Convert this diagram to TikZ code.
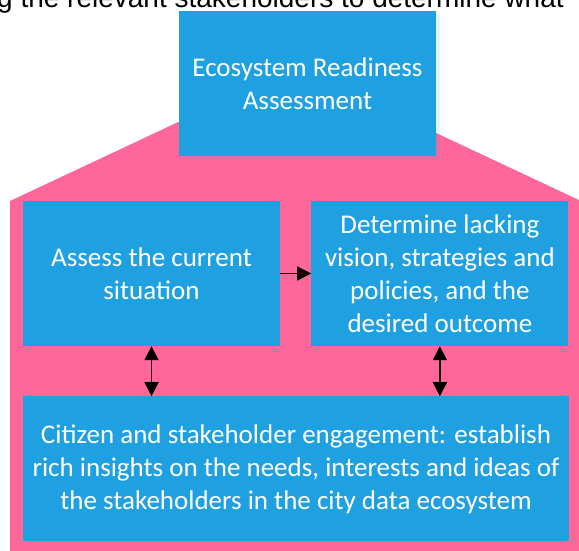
\documentclass[tikz,border=0pt]{standalone}
\usepackage{fontspec}
\setmainfont{Carlito}
\newfontfamily\arialfont{Liberation Sans}
\usepackage{tikz}
\usetikzlibrary{arrows.meta, positioning}
\usepackage{xcolor}
\definecolor{boxblue}{HTML}{1FA0E0}
\definecolor{roofpink}{HTML}{FF6699}

\begin{document}
\begin{tikzpicture}[x=1pt, y=-1pt,
    stagebox/.style={rectangle, fill=boxblue, text=white, align=center, minimum width=257pt, minimum height=145pt, inner sep=0pt, font=\fontsize{27}{33}\selectfont},
    link/.style={-{Triangle[length=14pt, width=14pt]}, line width=1.4pt},
    twoway/.style={{Triangle[length=14pt, width=14pt]}-{Triangle[length=14pt, width=14pt]}, line width=1.4pt}]
    \useasboundingbox (0,0) rectangle (579,550);
    \begin{scope}
    \clip (0,0) rectangle (579,550);
    % house shape behind the stages
    \fill[roofpink] (10,560) -- (10,201) -- (295.5,67) -- (581,201) -- (581,560) -- cycle;
    \node[anchor=base west, inner sep=0pt, font=\arialfont\fontsize{28}{32}\selectfont] (caption) at (-3,7) {g the relevant stakeholders to determine what};
    \fill[boxblue, opacity=0.12] (183,15) rectangle (440,160);
    \node[stagebox] (era) at (307.5,83.5) {Ecosystem Readiness\\Assessment};
    \node[stagebox] (assess) at (151.5,273.5) {Assess the current\\situation};
    \node[stagebox, right=31pt of assess] (lacking) {Determine lacking\\vision, strategies and\\policies, and the\\desired outcome};
    \node[stagebox, minimum width=546pt, below right=50pt and 0pt of assess.south west] (engage) {Citizen and stakeholder engagement: establish\\rich insights on the needs, interests and ideas of\\the stakeholders in the city data ecosystem};
    \draw[link] (assess.east) -- (lacking.west);
    \draw[twoway] (assess.south) -- (engage.north -| assess.south);
    \draw[twoway] (lacking.south) -- (engage.north -| lacking.south);
    \end{scope}
\end{tikzpicture}
\end{document}
